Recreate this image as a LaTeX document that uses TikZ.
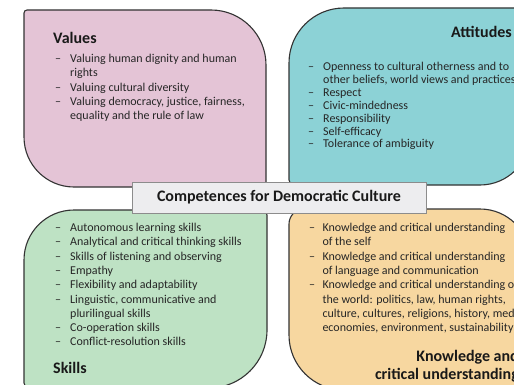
\documentclass[tikz,border=0pt]{standalone}
\usepackage{fontspec}
\setmainfont{Carlito}
\usetikzlibrary{positioning}

\definecolor{valpink}{RGB}{228,196,214}
\definecolor{atteal}{RGB}{140,210,214}
\definecolor{skgreen}{RGB}{190,226,196}
\definecolor{knorange}{RGB}{247,215,160}
\definecolor{titlegray}{RGB}{237,237,239}
\newcommand{\itm}[2][15pt]{\makebox[#1][l]{--}#2}
\newcommand{\cnt}[2][15pt]{\hspace*{#1}#2}

\begin{document}
\begin{tikzpicture}[x=1pt,y=1pt]
\tikzset{blob/.style = {draw=black!80,line width=1.1pt}}
\tikzset{list/.style = {inner sep=0pt,align=left,anchor=north west,text=black!85,font=\fontsize{12}{14.3}\selectfont}}
\tikzset{head/.style = {inner sep=0pt,text=black!90,font=\fontsize{16}{18}\selectfont\bfseries}}
\useasboundingbox[fill=white] (0,0) rectangle (514,-385);
% shapes
\draw[blob,fill=valpink] (24,-13) arc[start angle=180,end angle=90,radius=3] -- (211,-10)
  arc[start angle=90,end angle=0,radius=55] -- (266,-182)
  arc[start angle=0,end angle=-90,radius=5] -- (74,-187)
  arc[start angle=270,end angle=180,radius=50] -- cycle;
\draw[blob,fill=atteal] (289,-63) arc[start angle=180,end angle=90,radius=55] -- (525,-8)
  arc[start angle=90,end angle=0,radius=5] -- (530,-135)
  arc[start angle=0,end angle=-90,radius=50] -- (294,-185)
  arc[start angle=270,end angle=180,radius=5] -- cycle;
\draw[blob,fill=skgreen] (24,-260) arc[start angle=180,end angle=90,radius=50] -- (262,-210)
  arc[start angle=90,end angle=0,radius=5] -- (267,-330)
  arc[start angle=0,end angle=-90,radius=58] -- (29,-388)
  arc[start angle=270,end angle=180,radius=5] -- cycle;
\draw[blob,fill=knorange] (289,-224) arc[start angle=180,end angle=90,radius=15] -- (480,-209)
  arc[start angle=90,end angle=0,radius=50] -- (530,-385)
  arc[start angle=0,end angle=-90,radius=5] -- (344,-390)
  arc[start angle=270,end angle=180,radius=55] -- cycle;
% title
\node[draw=black!45,line width=0.8pt,fill=titlegray,minimum width=294pt,minimum height=31pt,
  text=black!90,font=\fontsize{16}{18}\selectfont\bfseries] (title) at (279,-197.5) {Competences for Democratic Culture};
% values
\node[head,anchor=base west] (valhead) at (53,-43.5) {Values};
\node[list] (vallist) at (55,-54) {\itm{Valuing human dignity and human}\\
  \cnt{rights}\\
  \itm{Valuing cultural diversity}\\
  \itm{Valuing democracy, justice, fairness,}\\
  \cnt{equality and the rule of law}};
% attitudes
\node[head,anchor=base east] (atthead) at (512,-37.5) {Attitudes};
\node[list,font=\fontsize{12}{12.9}\selectfont] (attlist) at (308,-62) {\itm{Openness to cultural otherness and to}\\
  \cnt{other beliefs, world views and practices}\\
  \itm{Respect}\\
  \itm{Civic-mindedness}\\
  \itm{Responsibility}\\
  \itm{Self-efficacy}\\
  \itm{Tolerance of ambiguity}};
% skills
\node[list] (sklist) at (55,-223) {\itm{Autonomous learning skills}\\
  \itm{Analytical and critical thinking skills}\\
  \itm{Skills of listening and observing}\\
  \itm{Empathy}\\
  \itm{Flexibility and adaptability}\\
  \itm{Linguistic, communicative and}\\
  \cnt{plurilingual skills}\\
  \itm{Co-operation skills}\\
  \itm{Conflict-resolution skills}};
\node[head,anchor=base west] (skhead) at (53,-373.5) {Skills};
% knowledge
\node[list] (knlist) at (309,-223) {\itm[13.3pt]{Knowledge and critical understanding}\\
  \cnt[13.3pt]{of the self}\\
  \itm[13.3pt]{Knowledge and critical understanding}\\
  \cnt[13.3pt]{of language and communication}\\
  \itm[13.3pt]{Knowledge and critical understanding of}\\
  \cnt[13.3pt]{the world: politics, law, human rights,}\\
  \cnt[13.3pt]{culture, cultures, religions, history, media,}\\
  \cnt[13.3pt]{economies, environment, sustainability}};
\node[head,anchor=base east,align=right] (knhead) at (519,-379) {Knowledge and\\critical understanding};
\end{tikzpicture}
\end{document}
